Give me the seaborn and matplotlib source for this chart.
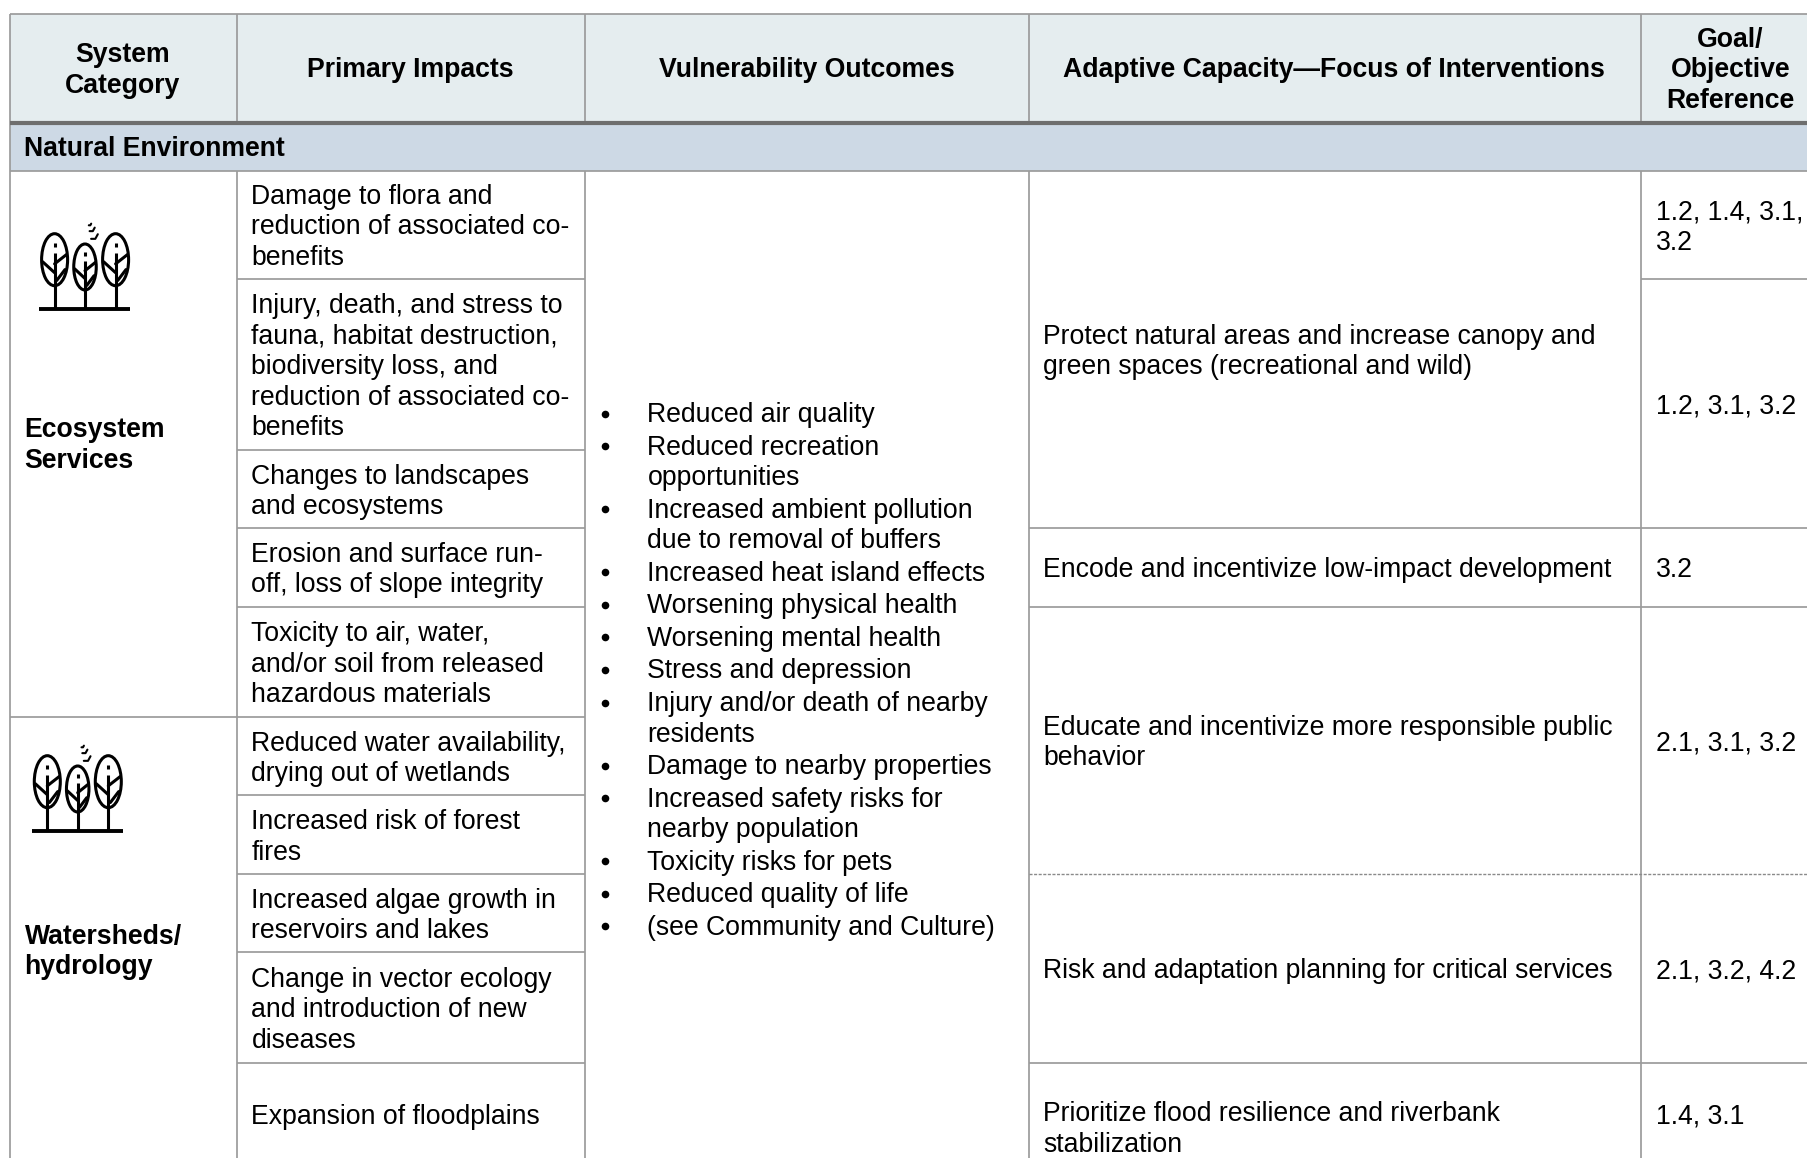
import matplotlib
matplotlib.use("Agg")
import matplotlib.pyplot as plt
from matplotlib.patches import Ellipse
from matplotlib.colors import ListedColormap
import numpy as np
import pandas as pd
import seaborn as sns

# ---------- table content ----------
headers = [["System", "Category"], ["Primary Impacts"], ["Vulnerability Outcomes"],
           ["Adaptive Capacity\u2014Focus of Interventions"], ["Goal/", "Objective", "Reference"]]
section = "Natural Environment"
categories = [["Ecosystem", "Services"], ["Watersheds/", "hydrology"]]
impacts = [
    ["Damage to flora and", "reduction of associated co-", "benefits"],
    ["Injury, death, and stress to", "fauna, habitat destruction,", "biodiversity loss, and",
     "reduction of associated co-", "benefits"],
    ["Changes to landscapes", "and ecosystems"],
    ["Erosion and surface run-", "off, loss of slope integrity"],
    ["Toxicity to air, water,", "and/or soil from released", "hazardous materials"],
    ["Reduced water availability,", "drying out of wetlands"],
    ["Increased risk of forest", "fires"],
    ["Increased algae growth in", "reservoirs and lakes"],
    ["Change in vector ecology", "and introduction of new", "diseases"],
    ["Expansion of floodplains"],
]
outcomes = [
    ["Reduced air quality"], ["Reduced recreation", "opportunities"],
    ["Increased ambient pollution", "due to removal of buffers"],
    ["Increased heat island effects"], ["Worsening physical health"],
    ["Worsening mental health"], ["Stress and depression"],
    ["Injury and/or death of nearby", "residents"], ["Damage to nearby properties"],
    ["Increased safety risks for", "nearby population"], ["Toxicity risks for pets"],
    ["Reduced quality of life"], ["(see Community and Culture)"],
]
interventions = [
    ["Protect natural areas and increase canopy and", "green spaces (recreational and wild)"],
    ["Encode and incentivize low-impact development"],
    ["Educate and incentivize more responsible public", "behavior"],
    ["Risk and adaptation planning for critical services"],
    ["Prioritize flood resilience and riverbank", "stabilization"],
]
goals = [["1.2, 1.4, 3.1,", "3.2"], ["1.2, 3.1, 3.2"], ["3.2"], ["2.1, 3.1, 3.2"],
         ["2.1, 3.2, 4.2"], ["1.4, 3.1"]]

# ---------- layout (pixels) ----------
W, H = 1807, 1158
col_x = [10, 237, 585, 1029, 1641]
header_centres = [122.5, 410.5, 807, 1334, 1730.5]
top, head_bot, sect_bot = 13.5, 123, 170.5
impact_edges = [170, 279, 449.5, 528, 606.5, 717, 795, 873.5, 952, 1062.5, 1166]
category_edges = [168, 717, 1181]
intervention_edges = [170, 528, 606.5, 873.5, 1062.5, 1190]
goal_edges = [170, 279, 528, 606.5, 873.5, 1062.5, 1164]

FS = 19.15
PITCH = 30.5
BASE = 10
FONT = "Liberation Sans"
GRID = "#9b9b9b"

sns.set_theme(style="white")
plt.rcParams["font.family"] = [FONT, "DejaVu Sans"]

fig = plt.figure(figsize=(W / 100, H / 100), dpi=100)
fig.patch.set_facecolor("white")


def band(y0, y1, colour):
    a = fig.add_axes([col_x[0] / W, 1 - y1 / H, (W - col_x[0]) / W, (y1 - y0) / H], zorder=0)
    sns.heatmap(pd.DataFrame([[0]]), ax=a, cmap=ListedColormap([colour]), cbar=False,
                xticklabels=False, yticklabels=False)
    a.set_axis_off()


band(top, head_bot, "#e5edef")
band(head_bot, sect_bot, "#cdd9e5")

ax = fig.add_axes([0, 0, 1, 1], zorder=1)
ax.patch.set_alpha(0)


def rule(x0, x1, y0, y1, colour=GRID, lw=1.25, **kw):
    sns.lineplot(x=[x0, x1], y=[y0, y1], ax=ax, color=colour, linewidth=lw, estimator=None,
                 sort=False, legend=False, solid_capstyle="butt", **kw)


def block(lines, x, cy, ha="left", weight="normal"):
    n = len(lines)
    for i, line in enumerate(lines):
        ax.text(x, cy + (i - (n - 1) / 2) * PITCH + BASE, line, ha=ha, va="baseline",
                fontsize=FS, fontweight=weight, color="black", family=[FONT, "DejaVu Sans"])


# grid
rule(col_x[0], W, top, top)
rule(col_x[0], W, sect_bot, sect_bot)
rule(col_x[0], col_x[0], top, H)
for x in col_x[1:]:
    rule(x, x, top, head_bot)
    rule(x, x, sect_bot, H)
rule(col_x[0], W, head_bot, head_bot, colour="#6e6e6e", lw=3.0)
for y in impact_edges[1:-1]:
    rule(col_x[1], col_x[2], y, y)
rule(col_x[0], col_x[1], category_edges[1], category_edges[1])
for y in intervention_edges[1:-1]:
    if y != 873.5:
        rule(col_x[3], col_x[4], y, y)
for y in goal_edges[1:-1]:
    if y != 873.5:
        rule(col_x[4], W, y, y)
rule(col_x[3], W, 873.5, 873.5, colour="#8a8a8a", lw=1.0, linestyle=(0, (2.2, 1.1)))

# header + section
for lines, cx in zip(headers, header_centres):
    block(lines, cx, 67.3, ha="center", weight="bold")
block([section], 24.5, 146.3, weight="bold")

# body
for k, lines in enumerate(categories):
    block(lines, 24.5, (category_edges[k] + category_edges[k + 1]) / 2, weight="bold")
for k, lines in enumerate(impacts):
    block(lines, 251.5, (impact_edges[k] + impact_edges[k + 1]) / 2)
for k, lines in enumerate(interventions):
    block(lines, 1043.5, (intervention_edges[k] + intervention_edges[k + 1]) / 2)
for k, lines in enumerate(goals):
    block(lines, 1656, (goal_edges[k] + goal_edges[k + 1]) / 2)

y = 412.2 + BASE
bullet_y = []
for item in outcomes:
    bullet_y.append(y - 8.5)
    for j, line in enumerate(item):
        ax.text(647.5, y, line, fontsize=FS, color="black", va="baseline", family=[FONT, "DejaVu Sans"])
        y += PITCH if j < len(item) - 1 else 0
    y += 32.55
sns.scatterplot(x=[605] * len(bullet_y), y=bullet_y, ax=ax, color="black", s=30, linewidth=0, legend=False)


# icons
LW = 2.2


def tree(cx, cy, w, h, ground, dx, dy):
    cx += dx; cy += dy; ground += dy
    ax.add_patch(Ellipse((cx, cy), w, h, fill=False, ec="black", lw=LW, zorder=3))
    ax.plot([cx, cx], [cy - h * 0.12, ground], color="black", lw=LW, zorder=3, solid_capstyle="butt")
    ax.plot([cx, cx], [cy - h * 0.33, cy - h * 0.25], color="black", lw=LW, zorder=3, solid_capstyle="butt")
    ax.plot([cx - w * 0.46, cx], [cy + h * 0.04, cy + h * 0.25], color="black", lw=LW, zorder=3)
    ax.plot([cx + w * 0.46, cx], [cy - h * 0.10, cy + h * 0.08], color="black", lw=LW, zorder=3)
    ax.plot([cx + w * 0.40, cx + w * 0.08], [cy + h * 0.19, cy + h * 0.40], color="black", lw=LW, zorder=3)


def icon(dx, dy):
    tree(47.3, 781.7, 26, 52, 831, dx, dy)
    tree(77.7, 789, 22.5, 46, 831, dx, dy)
    tree(108.3, 781.7, 26, 52, 831, dx, dy)
    ax.plot([32 + dx, 122.7 + dx], [831 + dy, 831 + dy], color="black", lw=2.8, zorder=3, solid_capstyle="butt")
    for bx, by, s in [(83, 747, 1.5), (85.5, 752.5, 3.2), (88, 760, 4.2)]:
        ax.plot([bx + dx - s, bx + dx, bx + dx + s * 0.6], [by + dy + 0.2 * s, by + dy + 0.2 * s, by + dy - 0.9 * s],
                color="black", lw=1.5, zorder=3)


icon(0, 0)
icon(7.3, -522)

ax.set_xlim(0, W)
ax.set_ylim(H, 0)
ax.set_xlabel("")
ax.set_ylabel("")
ax.set_axis_off()

fig.savefig("out.png", dpi=100, facecolor="white")
